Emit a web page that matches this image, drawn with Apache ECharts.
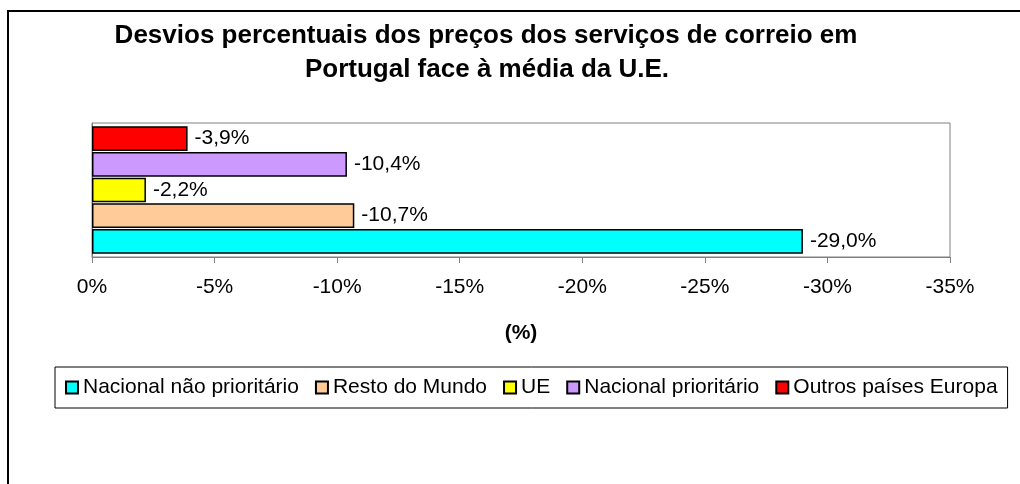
<!DOCTYPE html>
<html>
<head>
<meta charset="utf-8">
<script src="https://cdn.jsdelivr.net/npm/echarts@6/dist/echarts.min.js"></script>
<style>html,body{margin:0;padding:0;background:#fff;}#c{width:1020px;height:484px;}</style>
</head>
<body>
<div id="c"></div>
<script>
const titleLines = ['Desvios percentuais dos preços dos serviços de correio em', 'Portugal face à média da U.E.'];
const axisName = '(%)';
const categories = [''];
// legend order (as in the reference legend)
const legendNames = ['Nacional não prioritário', 'Resto do Mundo', 'UE', 'Nacional prioritário', 'Outros países Europa'];
// bars, top to bottom
const seriesNames = ['Outros países Europa', 'Nacional prioritário', 'UE', 'Resto do Mundo', 'Nacional não prioritário'];
const seriesValues = [-3.9, -10.4, -2.2, -10.7, -29.0];
const seriesColors = ['#FF0000', '#CC99FF', '#FFFF00', '#FFCC99', '#00FFFF'];
const xMin = -35, xMax = 0, xStep = 5;

const FONT = '"Liberation Sans", Arial, sans-serif';
const chart = echarts.init(document.getElementById('c'));

const fmtPct = v => (v.toFixed(1).replace('.', ',')) + '%';

const series = seriesNames.map((name, i) => ({
  name: name,
  type: 'bar',
  data: [seriesValues[i]],
  barGap: '4%',
  barCategoryGap: '5%',
  itemStyle: { color: seriesColors[i], borderColor: '#000', borderWidth: 1.5 },
  label: {
    show: true, position: 'right', distance: 7,
    color: '#000', fontFamily: FONT, fontSize: 21,
    formatter: p => fmtPct(p.value)
  },
  emphasis: { disabled: true },
  animation: false
}));

chart.setOption({
  animation: false,
  backgroundColor: '#fff',
  graphic: [
    { type: 'rect', shape: { x: 8, y: 11, width: 1100, height: 600 },
      style: { fill: 'none', stroke: '#000', lineWidth: 2 }, z: -1 },
    { type: 'text', x: 486, y: 36,
      style: { text: titleLines[0], textAlign: 'center', textVerticalAlign: 'middle',
               font: 'bold 26px ' + FONT, fill: '#000' } },
    { type: 'text', x: 487, y: 70,
      style: { text: titleLines[1], textAlign: 'center', textVerticalAlign: 'middle',
               font: 'bold 26px ' + FONT, fill: '#000' } }
  ],
  grid: { left: 92, right: 70, top: 123, bottom: 227, show: true,
          borderColor: '#808080', borderWidth: 1, backgroundColor: '#fff', containLabel: false },
  legend: {
    data: legendNames,
    left: 55, top: 367,
    padding: [10, 10, 10, 10],
    itemGap: 16, itemWidth: 12, itemHeight: 12,
    icon: 'rect',
    borderColor: '#000', borderWidth: 1,
    textStyle: { fontFamily: FONT, fontSize: 21, color: '#000' },
    selectedMode: false
  },
  xAxis: {
    type: 'value', min: xMin, max: xMax, interval: xStep, inverse: true,
    name: axisName, nameLocation: 'middle', nameGap: 66,
    nameTextStyle: { fontFamily: FONT, fontSize: 21, fontWeight: 'bold', color: '#000' },
    axisLine: { show: true, lineStyle: { color: '#808080', width: 1 } },
    axisTick: { show: true, length: 6, lineStyle: { color: '#808080' } },
    axisLabel: { color: '#000', fontFamily: FONT, fontSize: 21, margin: 20,
                 formatter: v => (v === 0 ? '0' : String(v)) + '%' },
    splitLine: { show: false }
  },
  yAxis: {
    type: 'category', data: categories,
    axisLine: { show: true, lineStyle: { color: '#808080' } },
    axisTick: { show: false }, axisLabel: { show: false }
  },
  series: series
});
</script>
</body>
</html>
